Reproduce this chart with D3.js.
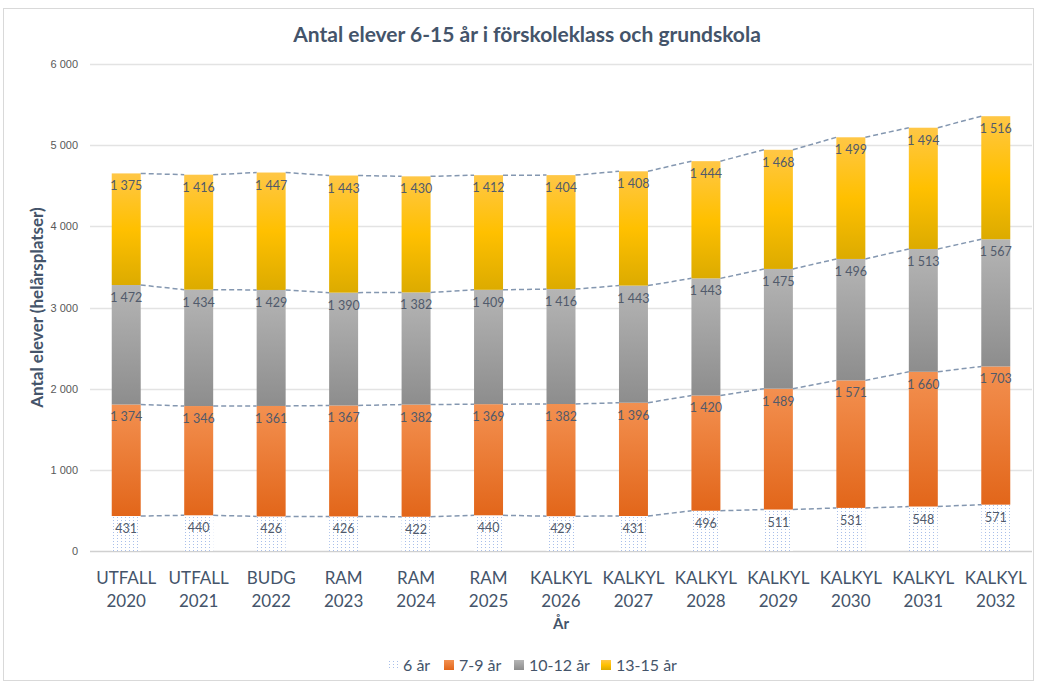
<!DOCTYPE html>
<html>
<head>
<meta charset="utf-8">
<script src="https://cdn.jsdelivr.net/npm/d3@7"></script>
<style>
  body { margin: 0; background: #fff; }
  svg { font-family: Lato, "Open Sans", sans-serif; }
</style>
</head>
<body>
<script>
const prefixes = ['UTFALL', 'UTFALL', 'BUDG', 'RAM', 'RAM', 'RAM', 'KALKYL', 'KALKYL', 'KALKYL', 'KALKYL', 'KALKYL', 'KALKYL', 'KALKYL'];
const years = ['2020', '2021', '2022', '2023', '2024', '2025', '2026', '2027', '2028', '2029', '2030', '2031', '2032'];
const seriesNames = ['6 år', '7-9 år', '10-12 år', '13-15 år'];
const age6 = [431, 440, 426, 426, 422, 440, 429, 431, 496, 511, 531, 548, 571];
const age7to9 = [1374, 1346, 1361, 1367, 1382, 1369, 1382, 1396, 1420, 1489, 1571, 1660, 1703];
const age10to12 = [1472, 1434, 1429, 1390, 1382, 1409, 1416, 1443, 1443, 1475, 1496, 1513, 1567];
const age13to15 = [1375, 1416, 1447, 1443, 1430, 1412, 1404, 1408, 1444, 1468, 1499, 1494, 1516];
const yTicks = [0, 1000, 2000, 3000, 4000, 5000, 6000];

const w = 1037;
const h = 684;
const margin = { left: 90, top: 64, right: 5, bottom: 133 };

const categories = years.map((y, i) => prefixes[i] + ' ' + y);
const table = categories.map((c, i) => ({
  cat: c,
  '6 år': age6[i],
  '7-9 år': age7to9[i],
  '10-12 år': age10to12[i],
  '13-15 år': age13to15[i],
}));
const stacked = d3.stack().keys(seriesNames)(table);

const svg = d3.select('body')
  .append('svg')
  .attr('width', w)
  .attr('height', h);

// gradients + pattern
const defs = svg.append('defs');
const grads = [
  ['g79', '#f39050', '#e2661a'],
  ['g1012', '#b5b5b5', '#8d8d8d'],
];
grads.forEach(([id, c1, c2]) => {
  const g = defs.append('linearGradient').attr('id', id)
    .attr('x1', 0).attr('y1', 0).attr('x2', 0).attr('y2', 1);
  g.append('stop').attr('offset', '0%').attr('stop-color', c1);
  g.append('stop').attr('offset', '100%').attr('stop-color', c2);
});
const gy = defs.append('linearGradient').attr('id', 'g1315')
  .attr('x1', 0).attr('y1', 0).attr('x2', 0).attr('y2', 1);
gy.append('stop').attr('offset', '0%').attr('stop-color', '#ffc746');
gy.append('stop').attr('offset', '50%').attr('stop-color', '#ffc000');
gy.append('stop').attr('offset', '100%').attr('stop-color', '#dcab00');

const pat = defs.append('pattern').attr('id', 'dots')
  .attr('patternUnits', 'userSpaceOnUse')
  .attr('width', 4).attr('height', 3);
pat.append('rect').attr('width', 4).attr('height', 3).attr('fill', '#fff');
pat.append('rect').attr('x', 1).attr('y', 1).attr('width', 1).attr('height', 1).attr('fill', '#a9bfe9');

const fills = ['url(#dots)', 'url(#g79)', 'url(#g1012)', 'url(#g1315)'];

// border
svg.append('rect')
  .attr('x', 3.5).attr('y', 8.5)
  .attr('width', w - 7).attr('height', h - 12)
  .attr('fill', 'none')
  .attr('stroke', '#d9d9d9');

// scales
const xScale = d3.scaleBand()
  .domain(categories)
  .range([margin.left, w - margin.right])
  .paddingInner(0.6)
  .paddingOuter(0.3);
const yScale = d3.scaleLinear()
  .domain([0, 6000])
  .range([h - margin.bottom, margin.top]);

const fmt = d3.formatLocale({ decimal: ',', thousands: ' ', grouping: [3], currency: ['', ' kr'] }).format(',d');

// gridlines
svg.append('g')
  .selectAll('line')
  .data(yTicks)
  .enter()
  .append('line')
  .attr('x1', margin.left)
  .attr('x2', w - margin.right)
  .attr('y1', (d) => Math.round(yScale(d)) + 0.5)
  .attr('y2', (d) => Math.round(yScale(d)) + 0.5)
  .attr('stroke', (d) => d === 0 ? '#d0d0d0' : '#e3e3e3')
  .attr('stroke-width', 1.5);

// y axis
const yAxis = d3.axisLeft(yScale).tickValues(yTicks).tickFormat(fmt).tickSize(0).tickPadding(12);
const yg = svg.append('g')
  .attr('transform', `translate(${margin.left}, 0)`)
  .call(yAxis);
yg.select('.domain').remove();
yg.selectAll('text').attr('fill', '#595959').style('font-size', '11px');

// bars
const layers = svg.append('g')
  .selectAll('g')
  .data(stacked)
  .enter()
  .append('g')
  .attr('fill', (d, i) => fills[i]);
layers.selectAll('rect')
  .data((d) => d)
  .enter()
  .append('rect')
  .attr('x', (d) => xScale(d.data.cat))
  .attr('y', (d) => yScale(d[1]))
  .attr('width', xScale.bandwidth())
  .attr('height', (d) => yScale(d[0]) - yScale(d[1]));

// series lines
const seriesLines = svg.append('g');
stacked.forEach((s) => {
  for (let i = 0; i < s.length - 1; i++) {
    seriesLines.append('line')
      .attr('x1', xScale(categories[i]) + xScale.bandwidth())
      .attr('x2', xScale(categories[i + 1]))
      .attr('y1', yScale(s[i][1]))
      .attr('y2', yScale(s[i + 1][1]))
      .attr('stroke', '#8497b0')
      .attr('stroke-width', 1.5)
      .attr('stroke-dasharray', '5,3');
  }
});

// data labels
const labels = svg.append('g');
stacked.forEach((s) => {
  labels.selectAll(null)
    .data(s)
    .enter()
    .append('text')
    .attr('x', (d) => xScale(d.data.cat) + xScale.bandwidth() / 2)
    .attr('y', (d) => yScale(d[1]) + 17)
    .attr('text-anchor', 'middle')
    .attr('fill', '#505a6b')
    .style('font-size', '12.5px')
    .text((d) => fmt(d[1] - d[0]));
});

// x axis labels
const xl = svg.append('g');
categories.forEach((c, i) => {
  const t = xl.append('text')
    .attr('x', xScale(c) + xScale.bandwidth() / 2)
    .attr('y', 584)
    .attr('text-anchor', 'middle')
    .attr('fill', '#44546a')
    .style('font-size', '17px');
  t.append('tspan').attr('x', xScale(c) + xScale.bandwidth() / 2).text(prefixes[i]);
  t.append('tspan').attr('x', xScale(c) + xScale.bandwidth() / 2).attr('dy', 23).text(years[i]);
});

svg.append('text')
  .attr('x', (margin.left + w - margin.right) / 2)
  .attr('y', 629)
  .attr('text-anchor', 'middle')
  .attr('fill', '#44546a')
  .style('font-size', '15px')
  .style('font-weight', 'bold')
  .text('År');

// y title
svg.append('text')
  .attr('transform', `translate(43, ${(margin.top + h - margin.bottom) / 2}) rotate(-90)`)
  .attr('text-anchor', 'middle')
  .attr('fill', '#44546a')
  .style('font-size', '17px')
  .style('font-weight', 'bold')
  .text('Antal elever (helårsplatser)');

// title
svg.append('text')
  .attr('x', 527)
  .attr('y', 42)
  .attr('text-anchor', 'middle')
  .attr('fill', '#44546a')
  .style('font-size', '21px')
  .style('font-weight', 'bold')
  .text('Antal elever 6-15 år i förskoleklass och grundskola');

// legend
const legendX = [388, 444, 514, 601];
const legend = svg.append('g');
seriesNames.forEach((n, i) => {
  legend.append('rect')
    .attr('x', legendX[i])
    .attr('y', 660)
    .attr('width', 10)
    .attr('height', 10)
    .attr('fill', fills[i]);
  legend.append('text')
    .attr('x', legendX[i] + 15)
    .attr('y', 671)
    .attr('fill', '#44546a')
    .style('font-size', '16px')
    .text(n);
});
</script>
</body>
</html>
